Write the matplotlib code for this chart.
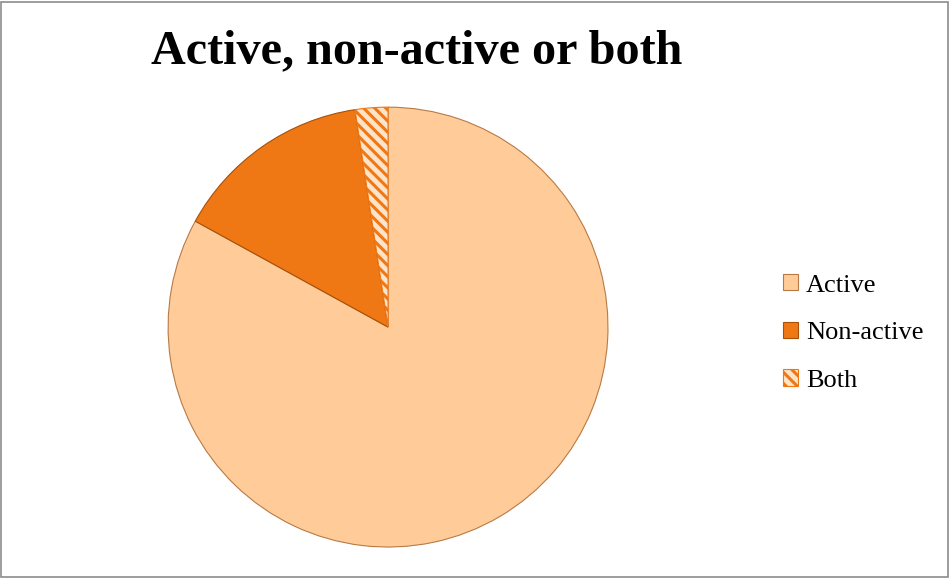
import matplotlib.pyplot as plt
from matplotlib.patches import Rectangle

labels = ['Active', 'Non-active', 'Both']
values = [83.0, 14.6, 2.4]
colors = ['#FFCC99', '#F07814', '#FDE3C8']

plt.rcParams['font.family'] = ['Liberation Serif', 'DejaVu Serif']
plt.rcParams['hatch.linewidth'] = 2.2

fig = plt.figure(figsize=(9.52, 5.78), dpi=100)
fig.patch.set_facecolor('white')

# gray frame round the whole chart
fig.add_artist(Rectangle((0.001, 0.002), 0.995, 0.994, transform=fig.transFigure,
                         fill=False, edgecolor='#8c8c8c', linewidth=1.2))

ax = fig.add_axes([0.1765, 0.0536, 0.4622, 0.761])
wedges, _ = ax.pie(values, colors=colors, startangle=90, counterclock=False,
                   wedgeprops=dict(edgecolor='#b87a45', linewidth=0.8))

# the Both slice is striped
wedges[2].set_hatch('\\\\\\')
wedges[2].set_edgecolor('#F07814')
wedges[1].set_edgecolor('#a85008')
ax.set_xlim(-1.0, 1.0)
ax.set_ylim(-1.0, 1.0)
ax.set_aspect('equal')

fig.text(0.438, 0.912, 'Active, non-active or both', ha='center', va='center',
         fontsize=34.7, fontweight='bold')

fig.legend(wedges, labels, loc='center left', bbox_to_anchor=(0.822, 0.424),
           frameon=False, fontsize=19, handlelength=0.58, handleheight=0.58,
           handletextpad=0.3, labelspacing=0.95, borderpad=0, borderaxespad=0)

fig.savefig('out.png', dpi=100)
